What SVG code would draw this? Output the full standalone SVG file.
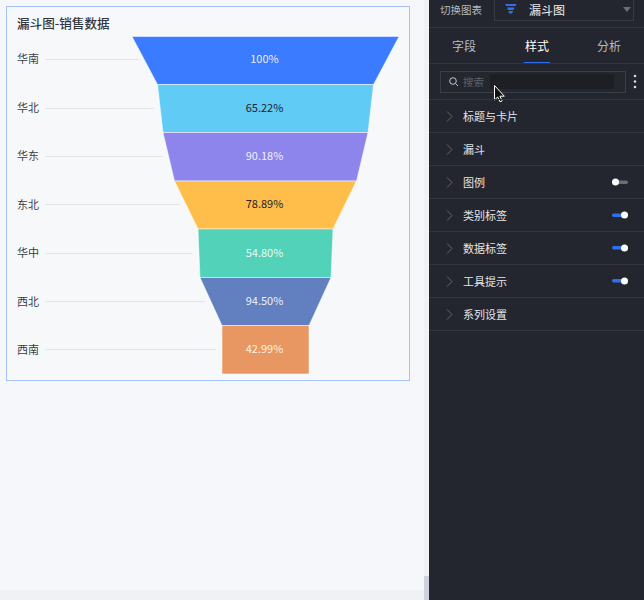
<svg xmlns="http://www.w3.org/2000/svg" width="644" height="600" viewBox="0 0 644 600">
<style>
text{font-family:"Noto Sans CJK SC","Noto Sans",sans-serif}
.t{font-size:11px;fill:#3a3e45}
.v{font-size:11px;text-anchor:middle;fill:#fff;fill-opacity:.9}
.d{fill:#1f2329;fill-opacity:1}
.l{stroke:#e3e4e8;stroke-width:1}
.s{stroke:#fff;stroke-opacity:.5;stroke-width:1}
.m{font-size:11px;fill:#e3e5e8}
.c{fill:none;stroke:#62666d;stroke-width:1}
.r{stroke:#31353c;stroke-width:1}
.k{fill:#fff}
.on{fill:#2f6fed}
</style>
<rect width="644" height="600" fill="#f6f7fa"/>
<rect x="0" y="590" width="429" height="10" fill="#eff1f4"/>
<rect x="424" y="0" width="5" height="600" fill="#f0f1f5"/>
<rect x="424" y="576" width="5" height="24" fill="#cfd2de"/>
<g id="card">
<rect x="6.500" y="6.500" width="403" height="374" fill="#f7f8fa" stroke="#a3c2fb"/>
<text x="17" y="28" font-size="12.600" font-weight="500" fill="#33363c">漏斗图-销售数据</text>
</g>
<g id="connectors">
<line class="l" x1="45" y1="59.500" x2="139" y2="59.500"/>
<line class="l" x1="45" y1="108.500" x2="154" y2="108.500"/>
<line class="l" x1="45" y1="156.500" x2="163" y2="156.500"/>
<line class="l" x1="45" y1="204.500" x2="180" y2="204.500"/>
<line class="l" x1="45" y1="253.500" x2="192" y2="253.500"/>
<line class="l" x1="45" y1="301.500" x2="205" y2="301.500"/>
<line class="l" x1="45" y1="349.500" x2="216" y2="349.500"/>
</g>
<g id="node-huanan">
<polygon class="s" points="132,36.500 399,36.500 373.500,84.500 157.500,84.500" fill="#3b7bff"/>
<text class="t" x="17" y="63">华南</text><text class="v" x="264.500" y="63">100%</text>
</g>
<g id="node-huabei">
<polygon class="s" points="157.500,84.500 373.500,84.500 368,132.500 163,132.500" fill="#60cbf5"/>
<text class="t" x="17" y="112">华北</text><text class="v d" x="264.500" y="112">65.22%</text>
</g>
<g id="node-huadong">
<polygon class="s" points="163,132.500 368,132.500 356.500,181 174.500,181" fill="#8d84ec"/>
<text class="t" x="17" y="160">华东</text><text class="v" x="264.500" y="160">90.18%</text>
</g>
<g id="node-dongbei">
<polygon class="s" points="174.500,181 356.500,181 333,229 198,229" fill="#ffbe4a"/>
<text class="t" x="17" y="209">东北</text><text class="v d" x="264.500" y="208">78.89%</text>
</g>
<g id="node-huazhong">
<polygon class="s" points="198,229 333,229 331,277.500 200,277.500" fill="#52d2b8"/>
<text class="t" x="17" y="257">华中</text><text class="v" x="264.500" y="257">54.80%</text>
</g>
<g id="node-xibei">
<polygon class="s" points="200,277.500 331,277.500 309,325.500 222,325.500" fill="#6280bf"/>
<text class="t" x="17" y="306">西北</text><text class="v" x="264.500" y="305">94.50%</text>
</g>
<g id="node-xinan">
<polygon class="s" points="222,325.500 309,325.500 309,374 222,374" fill="#e89662"/>
<text class="t" x="17" y="354">西南</text><text class="v" x="264.500" y="353">42.99%</text>
</g>
<g id="panel">
<rect x="429" y="0" width="215" height="600" fill="#23262e"/>
<text x="440" y="14" font-size="10.500" fill="#b4b7bc">切换图表</text>
<rect x="494.500" y="-1" width="139" height="21.500" fill="none" stroke="#363a41"/>
<path d="M505 4h11.500l-1 2h-9.500zM507 7.500h7.500l-1 2.500h-5.500zM508.500 11h4.500l-.8 2.500h-3z" fill="#2f6fed"/>
<text x="529" y="15" font-size="12" fill="#eceef0">漏斗图</text>
<polygon points="623,7 631,7 627,12" fill="#6a6d73"/>
<line class="r" x1="429" y1="27.500" x2="644" y2="27.500"/>
<text class="m" x="452" y="51" style="font-size:12px;fill:#b9bbbf">字段</text>
<text class="m" x="525" y="51" style="font-size:12px;fill:#fff">样式</text>
<text class="m" x="597" y="51" style="font-size:12px;fill:#b9bbbf">分析</text>
<rect x="524" y="62" width="26" height="2" fill="#2f6fed"/>
<line class="r" x1="429" y1="63.500" x2="644" y2="63.500"/>
<rect x="440.500" y="71.500" width="185" height="21" fill="#24272e" stroke="#3a3e45"/>
<rect x="490" y="74" width="124" height="15" fill="#1d1f25"/>
<circle cx="453" cy="81" r="3.300" fill="none" stroke="#c4c6ca"/>
<line x1="455.500" y1="83.500" x2="458" y2="86" stroke="#c4c6ca"/>
<text x="463" y="86" font-size="10.500" fill="#5f6268">搜索</text>
<circle cx="635" cy="76" r="1.300" fill="#d8dade"/><circle cx="635" cy="81.500" r="1.300" fill="#d8dade"/><circle cx="635" cy="87" r="1.300" fill="#d8dade"/>
<path d="M494.500 85.500v14.500l3.200-3 2.300 4.800 2.200-1-2.300-4.600h4.400z" fill="#111" stroke="#fff"/>
<line class="r" x1="429" y1="99.500" x2="644" y2="99.500"/>
<line class="r" x1="429" y1="132.500" x2="644" y2="132.500"/>
<line class="r" x1="429" y1="165.500" x2="644" y2="165.500"/>
<line class="r" x1="429" y1="198.500" x2="644" y2="198.500"/>
<line class="r" x1="429" y1="231.500" x2="644" y2="231.500"/>
<line class="r" x1="429" y1="264.500" x2="644" y2="264.500"/>
<line class="r" x1="429" y1="297.500" x2="644" y2="297.500"/>
<line class="r" x1="429" y1="330.500" x2="644" y2="330.500"/>
<path class="c" d="M447 111.500l5 5-5 5M447 144.500l5 5-5 5M447 177.500l5 5-5 5M447 210.500l5 5-5 5M447 243.500l5 5-5 5M447 276.500l5 5-5 5M447 309.500l5 5-5 5"/>
<text class="m" x="463" y="121">标题与卡片</text>
<text class="m" x="463" y="154">漏斗</text>
<text class="m" x="463" y="187">图例</text>
<text class="m" x="463" y="220">类别标签</text>
<text class="m" x="463" y="253">数据标签</text>
<text class="m" x="463" y="286">工具提示</text>
<text class="m" x="463" y="319">系列设置</text>
<rect x="612" y="180.500" width="16" height="3.500" rx="1.700" fill="#6a6d73"/><circle class="k" cx="615.500" cy="182" r="3.500"/>
<rect x="612" y="213.500" width="16" height="3.500" rx="1.700" class="on"/><circle class="k" cx="624.500" cy="215" r="3.500"/>
<rect x="612" y="246" width="16" height="3.500" rx="1.700" class="on"/><circle class="k" cx="624.500" cy="248" r="3.500"/>
<rect x="612" y="279" width="16" height="3.500" rx="1.700" class="on"/><circle class="k" cx="624.500" cy="281" r="3.500"/>
</g>
</svg>
